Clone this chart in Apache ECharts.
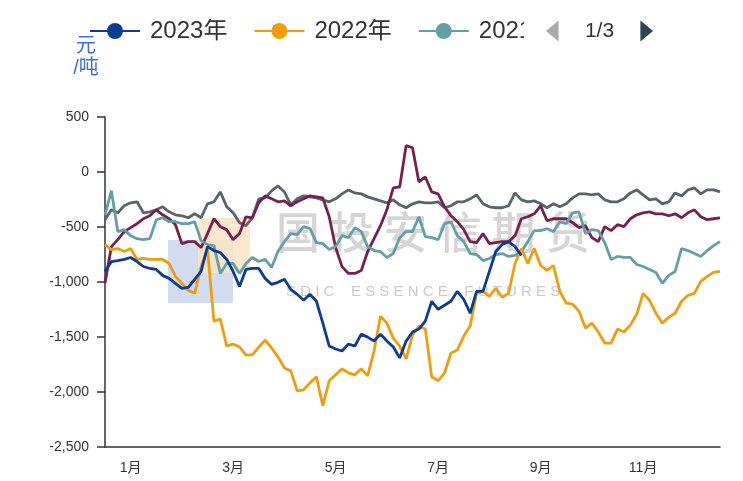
<!DOCTYPE html>
<html>
<head>
<meta charset="utf-8">
<script src="https://cdn.jsdelivr.net/npm/echarts@6/dist/echarts.min.js"></script>
<style>
html,body{margin:0;padding:0;background:#fff;}
#chart{width:743px;height:481px;}
</style>
</head>
<body>
<div id="chart"></div>
<script>
// ---- data ----
const monthLabels = ['1月','2月','3月','4月','5月','6月','7月','8月','9月','10月','11月','12月'];
const seriesNames = ['2023年','2022年','2021年','2020年','2019年'];
const seriesColors = ['#0c3c96','#f39c0a','#62a0a8','#771f4f','#57646e'];
const unitName = '元\n/吨';

const v2023 = [-904,-814,-805,-795,-777,-814,-859,-877,-886,-940,
  -967,-1012,-1058,-1049,-976,-904,-678,-714,-732,-795,
  -904,-1040,-886,-877,-877,-967,-1022,-1003,-976,-1067,
  -1112,-1166,-1112,-1175,-1374,-1582,-1609,-1627,-1564,-1582,
  -1474,-1501,-1537,-1474,-1537,-1591,-1690,-1537,-1455,-1428,
  -1356,-1175,-1248,-1211,-1175,-1085,-1157,-1284,-1085,-1085,
  -904,-723,-660,-633,-678,-759];

const v2022 = [-660,-705,-696,-723,-696,-795,-786,-795,-795,-795,
  -832,-949,-1012,-1076,-1103,-859,-705,-1356,-1338,-1582,
  -1564,-1591,-1663,-1663,-1591,-1528,-1600,-1681,-1781,-1808,
  -1989,-1980,-1917,-1862,-2124,-1898,-1844,-1790,-1826,-1844,
  -1790,-1853,-1627,-1311,-1374,-1510,-1582,-1700,-1483,-1401,
  -1428,-1862,-1898,-1826,-1645,-1618,-1492,-1401,-1103,-1085,
  -1130,-1058,-1139,-1103,-832,-696,-832,-696,-850,-895,
  -850,-1085,-1193,-1202,-1266,-1419,-1374,-1455,-1555,-1555,
  -1428,-1455,-1392,-1293,-1103,-1166,-1284,-1374,-1320,-1284,
  -1175,-1121,-1103,-994,-949,-913,-904];

const v2021 = [-390,-170,-542,-524,-579,-606,-615,-606,-434,-416,
  -452,-452,-470,-470,-452,-624,-660,-669,-922,-832,
  -832,-922,-832,-777,-814,-795,-868,-723,-633,-560,
  -569,-497,-515,-642,-651,-705,-678,-579,-597,-506,
  -542,-678,-714,-723,-777,-741,-597,-542,-542,-407,
  -588,-597,-615,-470,-452,-579,-633,-741,-750,-805,
  -786,-750,-741,-768,-759,-723,-633,-533,-533,-515,
  -542,-452,-470,-371,-362,-560,-524,-533,-642,-795,
  -768,-777,-777,-841,-859,-886,-913,-1012,-940,-904,
  -696,-714,-741,-768,-714,-669,-633];

const v2020 = [-1012,-678,-615,-542,-506,-470,-425,-398,-344,-389,
  -425,-479,-651,-633,-633,-687,-560,-425,-497,-524,
  -615,-560,-407,-416,-280,-217,-244,-271,-262,-307,
  -271,-244,-217,-226,-235,-407,-687,-860,-922,-922,
  -895,-723,-606,-488,-344,-145,-136,240,220,-90,
  -45,-181,-199,-316,-398,-452,-524,-633,-642,-560,
  -651,-642,-633,-633,-579,-425,-407,-380,-307,-443,
  -425,-425,-425,-461,-506,-488,-597,-633,-497,-533,
  -479,-497,-425,-389,-371,-362,-380,-380,-398,-380,
  -416,-371,-344,-407,-434,-425,-416];

const v2019 = [-434,-344,-371,-307,-280,-271,-371,-362,-344,-316,
  -362,-389,-398,-416,-380,-416,-289,-271,-181,-316,
  -371,-461,-488,-416,-244,-235,-172,-127,-181,-298,
  -244,-217,-226,-235,-253,-271,-244,-199,-163,-190,
  -199,-226,-244,-262,-280,-253,-298,-325,-289,-271,
  -280,-280,-271,-325,-307,-271,-271,-244,-208,-289,
  -316,-325,-325,-307,-190,-253,-271,-262,-289,-325,
  -289,-316,-289,-235,-199,-199,-208,-199,-253,-271,
  -271,-244,-190,-163,-208,-253,-244,-289,-271,-190,
  -217,-163,-145,-199,-163,-163,-181];

const seriesValues = [v2023, v2022, v2021, v2020, v2019];

// sample dates of the year (hidden category axis for the daily points)
const dayLabels = [];
for (let i = 0; i < v2022.length; i++) {
  const d = new Date(2023, 0, 1 + Math.round(i * 364 / (v2022.length - 1)));
  dayLabels.push((d.getMonth() + 1) + '/' + d.getDate());
}

const FONT = "'Liberation Sans', 'Noto Sans CJK SC', Arial, sans-serif";
const chart = echarts.init(document.getElementById('chart'));

chart.setOption({
  animation: false,
  backgroundColor: '#ffffff',
  textStyle: { fontFamily: FONT },
  color: seriesColors,
  grid: { left: 105, right: 23, top: 117, bottom: 34, containLabel: false },
  legend: {
    type: 'scroll',
    data: seriesNames,
    left: 84,
    top: 14,
    width: 564,
    itemWidth: 50,
    itemHeight: 20,
    itemGap: 26,
    lineStyle: { width: 2 },
    textStyle: { fontSize: 24, color: '#333', fontFamily: FONT, padding: [0, 0, 0, 5] },
    pageIconSize: [18, 21],
    pageIconColor: '#2f4554',
    pageIconInactiveColor: '#aaa',
    pageButtonItemGap: 17,
    pageButtonGap: 22,
    pageTextStyle: { fontSize: 21, color: '#333', fontFamily: FONT }
  },
  graphic: [
    { type: 'rect', silent: true, z: -10, shape: { x: 168, y: 240, width: 65, height: 63 }, style: { fill: 'rgba(180,196,230,0.6)' } },
    { type: 'rect', silent: true, z: -9, shape: { x: 198, y: 218, width: 52, height: 55, r: 8 }, style: { fill: 'rgba(250,228,196,0.85)' } },
    { type: 'text', silent: true, z: -8, left: 276, top: 210, style: { text: '国 投 安 信 期 货', font: '500 44px "Noto Sans CJK SC"', fill: 'rgba(150,150,150,0.4)' } },
    { type: 'text', silent: true, z: -8, left: 286, top: 284, style: { text: 'S D I C    E S S E N C E    F U T U R E S', font: '15px "Liberation Sans"', fill: 'rgba(150,150,150,0.5)' } }
  ],
  xAxis: [
    {
      type: 'category',
      data: monthLabels,
      boundaryGap: true,
      axisLine: { onZero: false, lineStyle: { color: '#333', width: 1.5 } },
      axisTick: { interval: 1, length: 6, lineStyle: { color: '#333', width: 1.5 } },
      axisLabel: { interval: 1, color: '#333', fontSize: 14, margin: 14, fontFamily: FONT },
      splitLine: { show: false }
    },
    {
      type: 'category',
      data: dayLabels,
      boundaryGap: false,
      show: false
    }
  ],
  yAxis: {
    type: 'value',
    min: -2500,
    max: 500,
    interval: 500,
    name: unitName,
    nameLocation: 'end',
    nameGap: 38,
    nameTextStyle: { color: '#3f6fd6', fontSize: 20, lineHeight: 22, align: 'center', padding: [0, 38, 0, 0], fontFamily: FONT },
    axisLine: { show: true, lineStyle: { color: '#333', width: 1.5 } },
    axisTick: { show: true, length: 8, lineStyle: { color: '#333', width: 1.5 } },
    axisLabel: { color: '#333', fontSize: 14, margin: 16, fontFamily: FONT, formatter: v => v.toLocaleString('en-US') },
    splitLine: { show: false }
  },
  series: seriesNames.map((n, k) => ({
    name: n,
    type: 'line',
    xAxisIndex: 1,
    data: seriesValues[k],
    symbol: 'circle',
    showSymbol: false,
    z: 10 - k,
    lineStyle: { width: 2.8, color: seriesColors[k] },
    itemStyle: { color: seriesColors[k] }
  }))
});
</script>
</body>
</html>
